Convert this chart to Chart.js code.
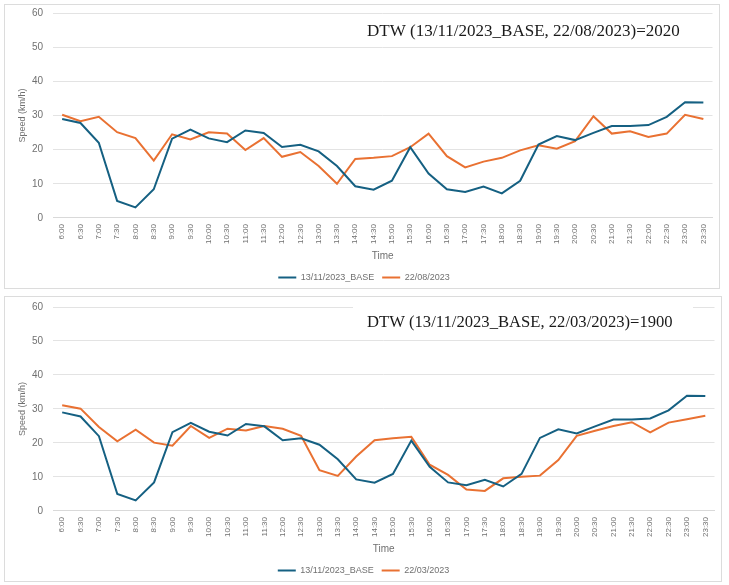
<!DOCTYPE html>
<html>
<head>
<meta charset="utf-8">
<script src="https://cdn.jsdelivr.net/npm/chart.js@4.4.1/dist/chart.umd.min.js"></script>
<style>
  body { margin: 0; background: #fff; width: 729px; height: 585px; position: relative; overflow: hidden; }
  .panel { position: absolute; left: 4px; border: 1px solid #dcdcdc; background: #fff; }
  #p1 { top: 4px; width: 714px; height: 283px; }
  #p2 { top: 296px; width: 716px; height: 284px; }
</style>
</head>
<body>
<div class="panel" id="p1"><canvas id="chart1"></canvas></div>
<div class="panel" id="p2"><canvas id="chart2"></canvas></div>
<script>
const timeLabels = ['6:00', '6:30', '7:00', '7:30', '8:00', '8:30', '9:00', '9:30', '10:00', '10:30',
    '11:00', '11:30', '12:00', '12:30', '13:00', '13:30', '14:00', '14:30', '15:00', '15:30',
    '16:00', '16:30', '17:00', '17:30', '18:00', '18:30', '19:00', '19:30', '20:00', '20:30',
    '21:00', '21:30', '22:00', '22:30', '23:00', '23:30'];

// 13/11/2023_BASE (same in both charts)
const baseSpeed = [29.0, 27.8, 22.0, 5.0, 3.1, 8.4, 23.2, 25.9, 23.3, 22.2, 25.6, 24.9, 20.8, 21.4,
    19.5, 15.2, 9.3, 8.3, 10.9, 20.7, 13.0, 8.4, 7.6, 9.2, 7.2, 10.9, 21.5, 24.0, 22.8, 24.9,
    26.9, 26.9, 27.2, 29.6, 33.9, 33.8];

// 22/08/2023
const augSpeed = [30.2, 28.3, 29.6, 25.1, 23.4, 16.8, 24.5, 23.0, 25.1, 24.7, 19.9, 23.4, 17.9, 19.3,
    15.2, 10.0, 17.3, 17.6, 18.1, 20.7, 24.7, 18.1, 14.8, 16.5, 17.6, 19.8, 21.3, 20.3, 22.5, 29.8,
    24.7, 25.4, 23.7, 24.7, 30.2, 29.0];

// 22/03/2023
const marSpeed = [31.1, 30.1, 24.7, 20.5, 23.9, 20.1, 19.2, 25.0, 21.5, 24.2, 23.7, 25.0, 24.2, 22.1,
    12.0, 10.3, 16.0, 20.8, 21.4, 21.8, 13.6, 10.6, 6.3, 5.9, 9.6, 10.1, 10.4, 15.0, 22.1, 23.6,
    25.0, 26.1, 23.1, 26.0, 27.0, 28.0];

const yTicks = [0, 10, 20, 30, 40, 50, 60];

const BLUE = '#156082';
const ORANGE = '#E97132';
const SANS = '"Liberation Sans", Arial, sans-serif';

// draws the DTW caption inside the plot, top right
const dtwTitle = {
    id: 'dtwTitle',
    afterDatasetsDraw(chart, args, opts) {
        const ctx = chart.ctx;
        const area = chart.chartArea;
        ctx.save();
        if (opts.mask) {
            ctx.fillStyle = '#fff';
            ctx.fillRect(area.left + opts.maskFrom, area.top - 3, opts.maskTo - opts.maskFrom, 8);
        }
        ctx.font = '16px "Liberation Serif", serif';
        const w = ctx.measureText(opts.text).width;
        const size = 16 * opts.width / w;
        ctx.font = size + 'px "Liberation Serif", serif';
        ctx.fillStyle = '#1a1a1a';
        ctx.textBaseline = 'alphabetic';
        ctx.fillText(opts.text, area.left + opts.dx, area.top + opts.dy);
        ctx.restore();
    }
};

function makeChart(id, otherLabel, otherData, title, pad) {
    const ctx = document.getElementById(id).getContext('2d');
    return new Chart(ctx, {
        type: 'line',
        data: {
            labels: timeLabels,
            datasets: [{
                label: '13/11/2023_BASE',
                data: baseSpeed,
                borderColor: BLUE,
                backgroundColor: BLUE,
                borderWidth: 2,
                pointRadius: 0,
                tension: 0
            }, {
                label: otherLabel,
                data: otherData,
                borderColor: ORANGE,
                backgroundColor: ORANGE,
                borderWidth: 2,
                pointRadius: 0,
                tension: 0
            }]
        },
        options: {
            responsive: true,
            maintainAspectRatio: false,
            animation: false,
            layout: { padding: pad },
            scales: {
                x: {
                    offset: true,
                    grid: { display: false, drawTicks: false },
                    border: { color: '#d9d9d9' },
                    ticks: {
                        minRotation: 90, maxRotation: 90, autoSkip: false, padding: 6,
                        color: '#707070', font: { family: SANS, size: 8 }
                    },
                    title: {
                        display: true, text: 'Time', color: '#707070',
                        font: { family: SANS, size: 10 }, padding: { top: 0, bottom: 3 }
                    }
                },
                y: {
                    min: 0, max: 60,
                    afterBuildTicks: (scale) => { scale.ticks = yTicks.map(v => ({ value: v })); },
                    afterFit: (scale) => { scale.width = 41; },
                    // invisible tick marks give the gap between labels and plot
                    grid: { color: '#e3e3e3', drawTicks: true, tickLength: 8, tickColor: 'rgba(0,0,0,0)' },
                    border: { display: false },
                    ticks: { padding: 2, color: '#707070', font: { family: SANS, size: 10 } },
                    title: {
                        display: true, text: 'Speed (km/h)', color: '#707070',
                        font: { family: SANS, size: 9 }, padding: { top: 5, bottom: 4 }
                    }
                }
            },
            plugins: {
                legend: {
                    position: 'bottom',
                    labels: {
                        usePointStyle: true,
                        pointStyle: 'line',
                        pointStyleWidth: 18,
                        padding: 8,
                        color: '#707070',
                        font: { family: SANS, size: 9 }
                    }
                },
                tooltip: { enabled: false },
                dtwTitle: title
            }
        },
        plugins: [dtwTitle]
    });
}

makeChart('chart1', '22/08/2023', augSpeed,
    { text: 'DTW (13/11/2023_BASE, 22/08/2023)=2020', dx: 314, dy: 23, width: 313, mask: false },
    { left: 7, right: 3, top: 0, bottom: -4 });
makeChart('chart2', '22/03/2023', marSpeed,
    { text: 'DTW (13/11/2023_BASE, 22/03/2023)=1900', dx: 314, dy: 20, width: 306,
      mask: true, maskFrom: 300, maskTo: 640 },
    { left: 7, right: 6, top: 10, bottom: -4 });
</script>
</body>
</html>
